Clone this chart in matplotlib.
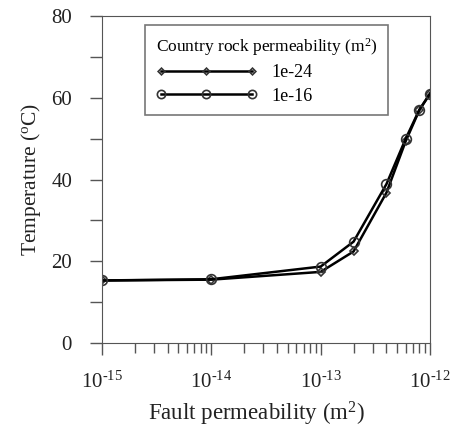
import matplotlib
matplotlib.use('Agg')
import matplotlib.pyplot as plt

# fault permeability (m2)
fault_perm = [1e-15, 1e-14, 1e-13, 2e-13, 4e-13, 6e-13, 8e-13, 1e-12]
# temperature for each country rock permeability
temp_1e24 = [15.3, 15.5, 17.4, 22.4, 36.8, 49.4, 57.0, 61.0]
temp_1e16 = [15.3, 15.6, 18.7, 24.8, 38.9, 50.0, 57.1, 61.0]
series_labels = ['1e-24', '1e-16']
xtick_vals = [1e-15, 1e-14, 1e-13, 1e-12]
xtick_labels = ['10$^{\\text{-15}}$', '10$^{\\text{-14}}$', '10$^{\\text{-13}}$', '10$^{\\text{-12}}$']

plt.rcParams['font.family'] = ['Liberation Serif', 'DejaVu Serif']
plt.rcParams['mathtext.fontset'] = 'custom'
plt.rcParams['mathtext.rm'] = 'Liberation Serif'
plt.rcParams['mathtext.it'] = 'Liberation Serif:italic'
plt.rcParams['mathtext.bf'] = 'Liberation Serif:bold'
plt.rcParams['mathtext.default'] = 'rm'

fig = plt.figure(figsize=(4.54, 4.28), dpi=100)
ax = fig.add_axes([0.2247, 0.1986, 0.9471 - 0.2247, 0.9625 - 0.1986])

ax.plot(fault_perm, temp_1e24, color='black', lw=1.8, marker='D', ms=4,
        mfc='none', mec='#333333', mew=1.2, label=series_labels[0])
ax.plot(fault_perm, temp_1e16, color='black', lw=1.8, marker='o', ms=7,
        mfc='none', mec='#333333', mew=1.2, label=series_labels[1])

ax.set_xscale('log')
ax.set_xlim(1e-15, 1e-12)
ax.set_ylim(0, 80)
ax.set_yticks([0, 20, 40, 60, 80])
ax.set_yticks([10, 30, 50, 70], minor=True)
ax.set_xticks(xtick_vals)
ax.set_xticklabels(xtick_labels)

for s in ax.spines.values():
    s.set_color('#555555')
ax.tick_params(which='both', direction='out', colors='#555555',
               labelcolor='#222222', labelsize=15)
ax.tick_params(which='major', length=8.6, width=1)
ax.tick_params(axis='x', which='minor', length=7, width=1)
ax.tick_params(axis='y', which='minor', length=8.6, width=1)
ax.tick_params(axis='x', pad=12)
ax.tick_params(axis='y', pad=13)

ax.set_xlabel('Fault permeability (m$^2$)', fontsize=16.5, color='#222222', labelpad=1)
ax.xaxis.set_label_coords(0.47, -0.175)
ax.set_ylabel('Temperature ($^{\\text{o}}$C)', fontsize=15.5, color='#222222', labelpad=6)

leg = ax.legend(title='Country rock permeability (m$^2$)', loc='upper left',
                bbox_to_anchor=(0.131, 0.972), borderaxespad=0,
                prop={'family': 'Liberation Serif', 'size': 13},
                title_fontsize=12.5, fancybox=False, frameon=True,
                handlelength=5.6, handletextpad=0.8, numpoints=3,
                borderpad=0.6, labelspacing=0.35, alignment='left',
                markerscale=0.85)
leg.get_title().set_family('Liberation Serif')
leg.get_frame().set_edgecolor('#555555')
leg.get_frame().set_linewidth(1.2)

fig.savefig('out.png', dpi=100)
